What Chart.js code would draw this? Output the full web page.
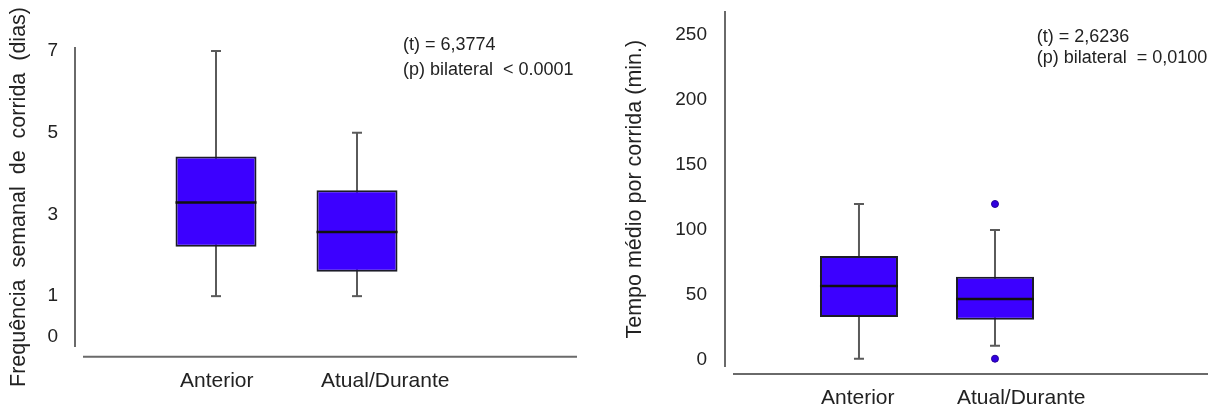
<!DOCTYPE html>
<html>
<head>
<meta charset="utf-8">
<script src="https://cdn.jsdelivr.net/npm/chart.js@4.4.0/dist/chart.umd.min.js"></script>
<style>
  html, body { margin: 0; padding: 0; background: #fff; }
  #wrap { position: relative; width: 1219px; height: 410px; overflow: hidden; }
  canvas { position: absolute; top: 0; }
  #freq { left: 0; }
  #time { left: 610px; }
</style>
</head>
<body>
<div id="wrap">
  <canvas id="freq" width="610" height="410"></canvas>
  <canvas id="time" width="609" height="410"></canvas>
</div>
<script>
// Groups compared in both panels
const categories = ['Anterior', 'Atual/Durante'];

// Frequência semanal de corrida (dias)
const freqLow = [1, 1];
const freqQ1 = [2.21, 1.6];
const freqMedian = [3.29, 2.57];
const freqQ3 = [4.42, 3.59];
const freqHigh = [7, 5];
const freqOutliers = [[], []];
const freqTicks = [0, 1, 3, 5, 7];
const freqStats = ['(t) = 6,3774', '(p) bilateral  < 0.0001'];

// Tempo médio por corrida (min.)
const timeLow = [1, 11];
const timeQ1 = [33, 31];
const timeMedian = [57, 47];
const timeQ3 = [80, 64];
const timeHigh = [120, 100];
const timeOutliers = [[], [120, 1]];
const timeTicks = [0, 50, 100, 150, 200, 250];
const timeStats = ['(t) = 2,6236', '(p) bilateral  = 0,0100'];

const FONT = "'Liberation Sans', Arial, sans-serif";
const TEXT = '#222222';
const AXIS = '#6a6a6a';
const BOX_FILL = '#3c00ff';
const WHISKER = '#5a5a5a';

// Box plot built from library datasets: whisker stem, box, caps, median, outliers
function boxDatasets(low, q1, med, q3, high, outliers, boxWidth) {
  const idx = categories.map((_, i) => i);
  return [
    {
      type: 'bar', order: 5, grouped: false, maxBarThickness: 2,
      data: idx.map(i => ({ x: i, y: [low[i], high[i]] })),
      backgroundColor: WHISKER, borderWidth: 0
    },
    {
      type: 'bar', order: 4, grouped: false, maxBarThickness: boxWidth,
      data: idx.map(i => ({ x: i, y: [q1[i], q3[i]] })),
      backgroundColor: BOX_FILL, borderColor: '#1c1c28', borderWidth: 2, borderSkipped: false
    },
    {
      type: 'scatter', order: 3,
      data: idx.flatMap(i => [{ x: i, y: low[i] }, { x: i, y: high[i] }]),
      pointStyle: 'line', pointRadius: 5, pointBorderColor: WHISKER, pointBorderWidth: 2
    },
    {
      type: 'scatter', order: 2,
      data: idx.map(i => ({ x: i, y: med[i] })),
      pointStyle: 'line', pointRadius: boxWidth / 2, pointBorderColor: '#111111', pointBorderWidth: 2.5
    },
    {
      type: 'scatter', order: 1,
      data: idx.flatMap(i => outliers[i].map(v => ({ x: i, y: v }))),
      pointStyle: 'circle', pointRadius: 3.5,
      pointBackgroundColor: '#3000e0', pointBorderColor: '#25009a', pointBorderWidth: 1
    }
  ];
}

// Detached baseline under the plot and the test statistics note
const decor = {
  id: 'decor',
  afterDraw(chart, args, opts) {
    const { ctx, chartArea: a } = chart;
    ctx.save();
    ctx.strokeStyle = AXIS;
    ctx.lineWidth = 2;
    ctx.beginPath();
    ctx.moveTo(a.left + opts.axisInset, a.bottom + opts.axisDrop);
    ctx.lineTo(a.right, a.bottom + opts.axisDrop);
    ctx.stroke();
    ctx.fillStyle = TEXT;
    ctx.font = '18px ' + FONT;
    ctx.textAlign = 'left';
    ctx.textBaseline = 'middle';
    opts.lines.forEach((t, i) => ctx.fillText(t, opts.noteX, opts.noteY + i * opts.noteGap));
    ctx.restore();
  }
};

function boxChart(id, c) {
  return new Chart(document.getElementById(id), {
    type: 'bar',
    data: { datasets: boxDatasets(c.low, c.q1, c.med, c.q3, c.high, c.outliers, c.boxWidth) },
    plugins: [decor],
    options: {
      responsive: false,
      animation: false,
      events: [],
      layout: { autoPadding: false, padding: { top: c.top, right: c.right, left: 0, bottom: 0 } },
      plugins: {
        legend: { display: false },
        tooltip: { enabled: false },
        decor: c.decor
      },
      scales: {
        x: {
          type: 'linear', min: c.xMin, max: c.xMax, offset: false,
          grid: { display: false, drawTicks: false, offset: false },
          border: { display: false },
          afterBuildTicks: s => { s.ticks = categories.map((_, i) => ({ value: i })); },
          afterFit: s => {
            s.height = c.xHeight;
            s.paddingLeft = 0;
            s.paddingRight = 0;
          },
          ticks: {
            callback: v => categories[v] ?? '',
            align: 'start', labelOffset: c.labelOffset, padding: c.xPad,
            autoSkip: false, maxRotation: 0,
            color: TEXT, font: { family: FONT, size: 21 }
          }
        },
        y: {
          type: 'linear', min: c.yMin, max: c.yMax,
          grid: { display: false, drawTicks: false },
          border: { display: true, color: AXIS, width: 2 },
          afterBuildTicks: s => { s.ticks = c.ticks.map(v => ({ value: v })); },
          afterFit: s => {
            s.width = c.yWidth;
            s.paddingTop = 0;
            s.paddingBottom = 0;
          },
          ticks: { padding: c.yPad, color: TEXT, font: { family: FONT, size: 19 } },
          title: {
            display: true, text: c.title, color: TEXT,
            font: { family: FONT, size: 21.5 }, padding: { top: c.titlePad, bottom: 0 }
          }
        }
      }
    }
  });
}

boxChart('freq', {
  low: freqLow, q1: freqQ1, med: freqMedian, q3: freqQ3, high: freqHigh, outliers: freqOutliers,
  ticks: freqTicks, title: 'Frequência  semanal  de  corrida  (dias)',
  boxWidth: 81, top: 48, right: 33, yWidth: 75, xHeight: 64,
  yMin: -0.22, yMax: 7.074, xMin: -1, xMax: 2.56,
  labelOffset: -36, xPad: 23, yPad: 17, titlePad: 6,
  decor: { axisInset: 8, axisDrop: 10.7, lines: freqStats, noteX: 403, noteY: 45, noteGap: 25 }
});

boxChart('time', {
  low: timeLow, q1: timeQ1, med: timeMedian, q3: timeQ3, high: timeHigh, outliers: timeOutliers,
  ticks: timeTicks, title: 'Tempo médio por corrida (min.)',
  boxWidth: 78, top: 11.7, right: 11, yWidth: 115, xHeight: 43.3,
  yMin: -5.15, yMax: 267.9, xMin: -0.985, xMax: 2.566,
  labelOffset: -38, xPad: 19.2, yPad: 18, titlePad: 12,
  decor: { axisInset: 8, axisDrop: 7.3, lines: timeStats, noteX: 426.7, noteY: 36.7, noteGap: 21.6 }
});
</script>
</body>
</html>
